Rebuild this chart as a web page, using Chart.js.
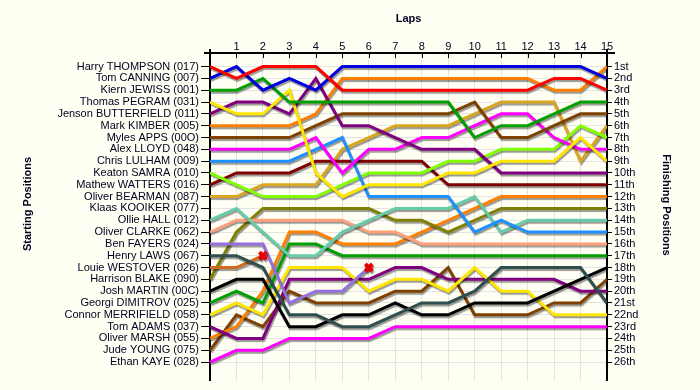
<!DOCTYPE html>
<html>
<head>
<meta charset="utf-8">
<script src="https://cdn.jsdelivr.net/npm/chart.js@4"></script>
<style>
  html, body { margin: 0; background: #fffff4; }
  #wrap { width: 700px; height: 390px; position: relative; }
</style>
</head>
<body>
<div id="wrap"><canvas id="lapChart"></canvas></div>
<script>
// laps (0 = grid)
const laps = [0,1,2,3,4,5,6,7,8,9,10,11,12,13,14,15];

const startNames = [
  'Harry THOMPSON (017)', 'Tom CANNING (007)', 'Kiern JEWISS (001)', 'Thomas PEGRAM (031)',
  'Jenson BUTTERFIELD (011)', 'Mark KIMBER (005)', 'Myles APPS (00O)', 'Alex LLOYD (048)',
  'Chris LULHAM (009)', 'Keaton SAMRA (010)', 'Mathew WATTERS (016)', 'Oliver BEARMAN (087)',
  'Klaas KOOIKER (077)', 'Ollie HALL (012)', 'Oliver CLARKE (062)', 'Ben FAYERS (024)',
  'Henry LAWS (067)', 'Louie WESTOVER (026)', 'Harrison BLAKE (090)', 'Josh MARTIN (00C)',
  'Georgi DIMITROV (025)', 'Connor MERRIFIELD (058)', 'Tom ADAMS (037)', 'Oliver MARSH (055)',
  'Jude YOUNG (075)', 'Ethan KAYE (028)'
];

const finishLabels = [
  '1st','2nd','3rd','4th','5th','6th','7th','8th','9th','10th','11th','12th','13th',
  '14th','15th','16th','17th','18th','19th','20th','21st','22nd','23rd','24th','25th','26th'
];

// position per lap, lap 0 first
const thompson    = [1,2,1,1,1,3,3,3,3,3,3,3,3,2,2,3];
const canning     = [2,1,3,2,3,1,1,1,1,1,1,1,1,1,1,2];
const jewiss      = [3,3,2,4,4,4,4,4,4,4,7,6,6,5,4,4];
const pegram      = [4,5,5,3,10,12,11,11,11,10,10,9,9,9,7,9];
const butterfield = [5,4,4,5,2,6,6,7,8,8,8,10,10,10,10,10];
const kimber      = [6,6,6,6,5,2,2,2,2,2,2,2,2,3,3,1];
const apps        = [7,7,7,7,6,5,5,5,5,5,4,7,7,6,5,5];
const lloyd       = [8,8,8,8,7,10,8,8,7,7,6,5,5,7,8,8];
const lulham      = [9,9,9,9,8,7,12,12,12,12,15,14,15,15,15,15];
const samra       = [10,11,12,12,12,11,10,10,10,9,9,8,8,8,6,7];
const watters     = [11,10,10,10,9,9,9,9,9,11,11,11,11,11,11,11];
const bearman     = [12,12,11,11,11,8,7,6,6,6,5,4,4,4,9,6];
const hall        = [14,13,15,17,17,15,14,13,13,13,12,15,14,14,14,14];
const clarke      = [15,14,14,14,14,14,15,15,16,16,16,16,16,16,16,16];
const fayers      = [16,16,16,21,20,20,18];
const laws        = [17,17,18,22,22,23,23,22,21,21,20,18,18,18,18,21];
const westover    = [18,18,17];
const blake       = [19,15,13,13,13,13,13,14,14,15,14,13,13,13,13,13];
const martin      = [20,19,19,23,23,22,22,21,22,22,21,21,21,20,19,18];
const dimitrov    = [21,20,21,16,16,17,17,17,17,17,17,17,17,17,17,17];
const merrifield  = [22,21,22,18,18,18,20,19,19,20,18,20,20,22,22,22];
const adams       = [23,24,24,19,19,19,19,18,18,19,19,19,19,19,20,20];
const marsh       = [24,23,20,15,15,16,16,16,15,14,13,12,12,12,12,12];
const young       = [25,22,23,20,21,21,21,20,20,18,22,22,22,21,21,19];
const kaye        = [26,25,25,24,24,24,24,23,23,23,23,23,23,23,23,23];

const runs = [thompson, canning, jewiss, pegram, butterfield, kimber, apps, lloyd, lulham,
  samra, watters, bearman, hall, clarke, fayers, laws, westover, blake, martin, dimitrov,
  merrifield, adams, marsh, young, kaye];
const colors = ['#ff0000','#0000e0','#00a000','#ffe600','#800080','#ff8000','#804000','#ff00ff','#1e90ff',
  '#80ff00','#800000','#daa520','#66cdaa','#ffa07a','#9370db','#2f4f4f','#d2691e','#808000','#000000','#00a000',
  '#ffe600','#800080','#ff8000','#804000','#ff00ff'];
// retired: run stops before the last lap
const retired = [fayers, westover];

const font = { family: '"Liberation Sans", Arial, sans-serif', size: 11 };
const GRID = '#e4e4e4';
const INK = '#000020';

const datasets = runs.map((r, i) => ({
  data: r.map((p, k) => ({ x: laps[k], y: p })),
  borderColor: colors[i],
  borderWidth: 3,
  pointRadius: 0,
  tension: 0,
  fill: false
}));
datasets.unshift({
  data: retired.map(r => ({ x: laps[r.length - 1], y: r[r.length - 1] })),
  showLine: false,
  pointStyle: 'crossRot',
  pointRadius: 5,
  pointBorderWidth: 4,
  pointBorderColor: '#e80000',
  borderColor: '#e80000'
});

// axis lines, inner lap ticks, axis titles
const frame = {
  id: 'frame',
  beforeDatasetsDraw(chart) {
    const { ctx, chartArea: a, scales: { x } } = chart;
    ctx.save();
    ctx.strokeStyle = '#000';
    ctx.lineWidth = 2;
    ctx.beginPath();
    ctx.moveTo(a.left - 6, a.top); ctx.lineTo(a.right + 8, a.top);
    ctx.moveTo(a.left, a.top - 4); ctx.lineTo(a.left, a.bottom);
    ctx.moveTo(a.right, a.top - 4); ctx.lineTo(a.right, a.bottom);
    ctx.stroke();
    ctx.lineWidth = 1;
    ctx.beginPath();
    laps.forEach(l => {
      if (l === 0 || l === 15) return;
      const px = Math.round(x.getPixelForValue(l)) + 0.5;
      ctx.moveTo(px, a.top); ctx.lineTo(px, a.top + 5);
    });
    ctx.stroke();
    ctx.restore();
  },
  afterDraw(chart) {
    const { ctx, chartArea: a } = chart;
    const title = (txt, x, y, rot) => {
      ctx.save();
      ctx.font = 'bold 11px "Liberation Sans", Arial, sans-serif';
      ctx.fillStyle = INK;
      ctx.textAlign = 'center';
      ctx.textBaseline = 'middle';
      ctx.translate(x, y); ctx.rotate(rot);
      ctx.fillText(txt, 0, 0);
      ctx.restore();
    };
    title('Laps', (a.left + a.right) / 2, 19, 0);
    title('Starting Positions', 28, 204, -Math.PI / 2);
    title('Finishing Positions', 666, 205, Math.PI / 2);
  }
};

// grey drop shadow under the lines
const shadow = {
  id: 'shadow',
  beforeDatasetsDraw(chart) {
    const c = chart.ctx;
    c.save();
    c.shadowColor = 'rgba(0,0,0,0.4)';
    c.shadowOffsetX = 1;
    c.shadowOffsetY = 2;
    c.shadowBlur = 1;
  },
  afterDatasetsDraw(chart) { chart.ctx.restore(); }
};

const posTicks = s => { s.ticks = finishLabels.map((_, i) => ({ value: i + 1 })); };

new Chart(document.getElementById('lapChart'), {
  type: 'line',
  data: { datasets },
  options: {
    responsive: true,
    maintainAspectRatio: false,
    animation: false,
    layout: { padding: { left: 0, right: 0, top: 0, bottom: 5 } },
    plugins: { legend: { display: false }, tooltip: { enabled: false } },
    scales: {
      x: {
        type: 'linear', position: 'top', min: 0, max: 15,
        afterBuildTicks: s => { s.ticks = laps.map(v => ({ value: v })); },
        afterFit: s => { s.height = 53; },
        ticks: { callback: v => (v === 0 ? '' : v), font, color: INK, padding: -1, maxRotation: 0, autoSkip: false },
        grid: { color: GRID, drawTicks: false },
        border: { display: false }
      },
      y: {
        type: 'linear', position: 'left', reverse: true, min: -0.15, max: 27.6,
        afterBuildTicks: posTicks,
        afterFit: s => { s.width = 210; },
        ticks: { callback: v => startNames[v - 1], font, color: INK, padding: 2, autoSkip: false },
        grid: { color: GRID, tickColor: '#000', tickLength: 9 },
        border: { display: false }
      },
      y2: {
        type: 'linear', position: 'right', reverse: true, min: -0.15, max: 27.6,
        afterBuildTicks: posTicks,
        afterFit: s => { s.width = 93; },
        ticks: { callback: v => finishLabels[v - 1], font, color: INK, padding: 2, autoSkip: false },
        grid: { drawOnChartArea: false, tickColor: '#000', tickLength: 5 },
        border: { display: false }
      }
    }
  },
  plugins: [frame, shadow]
});
</script>
</body>
</html>
